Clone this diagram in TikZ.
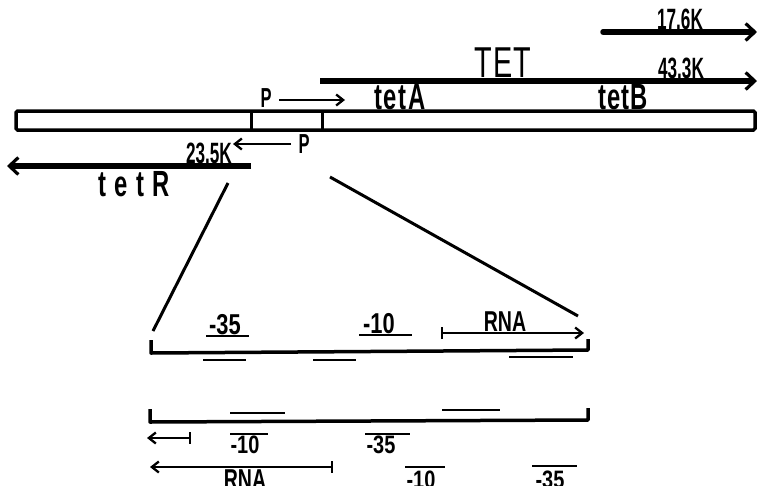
\documentclass[tikz,border=0pt]{standalone}
\usepackage{fontspec}
\usepackage{graphicx}
\setmainfont{Liberation Sans}
\usetikzlibrary{arrows.meta}

% label text: size, letter spacing, horizontal scale, vertical scale, text
\newcommand{\gl}[5]{{\fontsize{#1}{#1}\selectfont\bfseries\addfontfeature{LetterSpace=#2}\scalebox{#3}[#4]{#5}}}

\begin{document}
\begin{tikzpicture}[x=1pt,y=-1pt,
  lbl/.style={anchor=base,inner sep=0pt,outer sep=0pt},
  bigarrow/.style={line width=5.5pt,-{Straight Barb[length=9pt,width=17pt,line width=3.2pt]}},
  smallarrow/.style={line width=2.3pt,-{Straight Barb[length=7pt,width=11pt,line width=2.3pt]}},
  rnaarrow/.style={line width=2.3pt,{Bar[width=12pt,line width=2.3pt]}-{Straight Barb[length=7pt,width=11pt,line width=2.3pt]}},
  plasmid/.style={line width=3.5pt,rounded corners=1.5pt},
  bracket/.style={line width=3.5pt,line join=round},
  sitebar/.style={line width=2.4pt},
  zoomline/.style={line width=3pt}]

\useasboundingbox (0,0) rectangle (757,485);

% ---- plasmid map ----
\draw[plasmid] (16,111) rectangle (755,130);
\draw[line width=3pt] (251,111) -- (251,130);
\draw[line width=3pt] (322,111) -- (322,130);

% transcripts
\coordinate (s17) at (603,32);  \coordinate (e17) at (757,32);
\draw[bigarrow,line cap=round] (s17) -- (e17);
\coordinate (s43) at (320,81);  \coordinate (e43) at (757,81);
\draw[bigarrow] (s43) -- (e43);
\coordinate (sR) at (251,166);  \coordinate (eR) at (7,166);
\draw[bigarrow] (sR) -- (eR);

\node[lbl] (k17) at (680,29) {\gl{23.5}{0}{0.73}{1.25}{17.6K}};
\node[lbl] (k43) at (681,78) {\gl{23.5}{0}{0.73}{1.25}{43.3K}};
\node[lbl] (k23) at (209,163) {\gl{23.5}{0}{0.73}{1.25}{23.5K}};
\node[lbl] (tet) at (503,77) {{\fontsize{36}{36}\selectfont\addfontfeature{LetterSpace=4}\scalebox{0.8}[1.2]{TET}}};
\node[lbl] (tetA) at (400,109) {\gl{28}{8}{0.85}{1.3}{tetA}};
\node[lbl] (tetB) at (623,109) {\gl{28}{5}{0.85}{1.3}{tetB}};
\node[lbl] (tetR) at (134,196) {\gl{28}{34}{0.85}{1.3}{tetR}};

% promoters
\node[lbl] (p1) at (266,107) {\gl{22}{0}{0.75}{1.25}{P}};
\coordinate (pa1) at (279,100); \coordinate (pb1) at (345,100);
\draw[smallarrow] (pa1) -- (pb1);
\node[lbl] (p2) at (304,153) {\gl{22}{0}{0.75}{1.25}{P}};
\coordinate (pa2) at (291,144); \coordinate (pb2) at (233,144);
\draw[smallarrow] (pa2) -- (pb2);

% expansion of the promoter region
\coordinate (zl1) at (228,183); \coordinate (zl2) at (153,331);
\coordinate (zr1) at (330,177); \coordinate (zr2) at (578,316);
\draw[zoomline] (zl1) -- (zl2);
\draw[zoomline] (zr1) -- (zr2);

% ---- upper strand ----
\draw[bracket] (151,340) -- (151,353) -- (588,350) -- (588,339);
\node[lbl] (u35) at (225,334) {\gl{23}{0}{0.95}{1.25}{-35}};
\draw[sitebar] (206,336) -- (249,336);
\node[lbl] (u10) at (379,333) {\gl{23}{0}{0.95}{1.25}{-10}};
\draw[sitebar] (359,335) -- (412,335);
\coordinate (ra1) at (441,333); \coordinate (rb1) at (584,333);
\draw[rnaarrow] (ra1) -- (rb1);
\node[lbl] (rna1) at (505,331) {\gl{23}{0}{0.85}{1.25}{RNA}};
\draw[sitebar] (203,360) -- (246,360);
\draw[sitebar] (313,360) -- (356,360);
\draw[sitebar] (509,357) -- (573,357);

% ---- lower strand ----
\draw[bracket] (150,409) -- (150,422) -- (588,420) -- (588,408);
\draw[sitebar] (230,413) -- (285,413);
\draw[sitebar] (442,410) -- (500,410);
\coordinate (ra2) at (191,438); \coordinate (rb2) at (147,438);
\draw[rnaarrow] (ra2) -- (rb2);
\node[lbl] (l10) at (245,453) {\gl{21}{0}{0.95}{1.2}{-10}};
\draw[sitebar] (230,434) -- (268,434);
\node[lbl] (l35) at (381,453) {\gl{21}{0}{0.95}{1.2}{-35}};
\draw[sitebar] (365,434) -- (410,434);
\coordinate (ra3) at (333,467); \coordinate (rb3) at (150,467);
\draw[rnaarrow] (ra3) -- (rb3);
\node[lbl] (rna2) at (245,489) {\gl{23}{0}{0.85}{1.25}{RNA}};
\node[lbl] (m10) at (421,488) {\gl{21}{0}{0.95}{1.2}{-10}};
\draw[sitebar] (405,467) -- (445,467);
\node[lbl] (m35) at (550,488) {\gl{21}{0}{0.95}{1.2}{-35}};
\draw[sitebar] (532,466) -- (577,466);
\end{tikzpicture}
\end{document}
